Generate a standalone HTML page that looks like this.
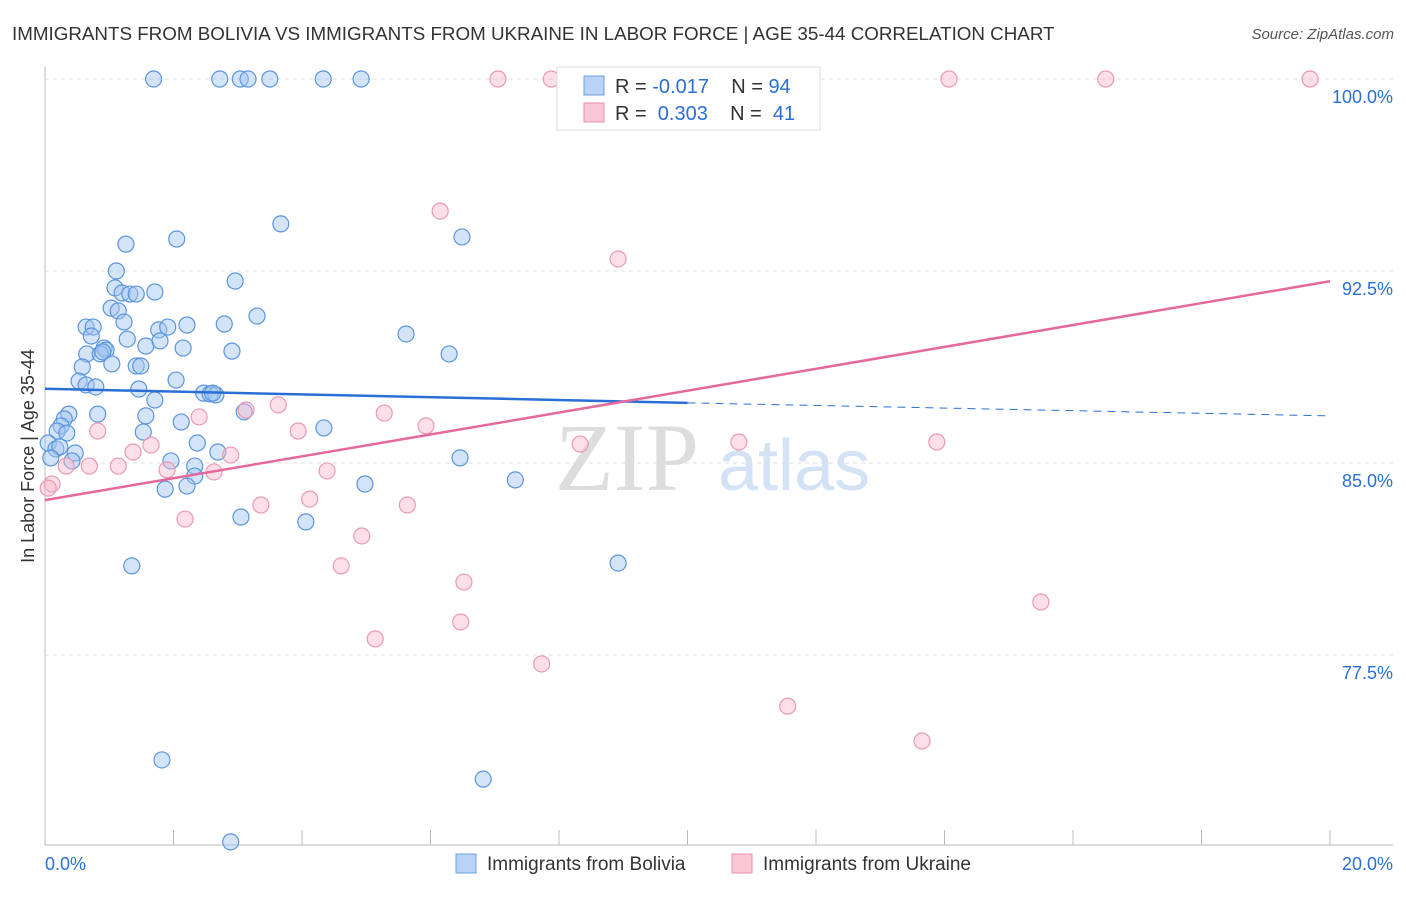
<!DOCTYPE html>
<html><head><meta charset="utf-8"><style>
body{margin:0;background:#fff;font-family:"Liberation Sans",sans-serif}
</style></head><body>
<svg id="c" width="1406" height="892" xmlns="http://www.w3.org/2000/svg" font-family="Liberation Sans, sans-serif">
<text x="12" y="40" font-size="18.8" fill="#333">IMMIGRANTS FROM BOLIVIA VS IMMIGRANTS FROM UKRAINE IN LABOR FORCE | AGE 35-44 CORRELATION CHART</text>
<text x="1394" y="39" font-size="15" fill="#555" font-style="italic" text-anchor="end">Source: ZipAtlas.com</text>
<text x="0" y="0" transform="translate(34,456) rotate(-90)" font-size="18" fill="#333" text-anchor="middle">In Labor Force | Age 35-44</text>
<text x="555" y="490" font-size="96" fill="#ddd" font-family="Liberation Serif, serif">ZIP</text>
<text x="718" y="490" font-size="72" fill="#d4e2f5">atlas</text>
<g id="grid"></g><g id="pts"></g><g id="lines"></g>
<g>
<rect x="557" y="67" width="263" height="63" fill="#fff" stroke="#ddd"/>
<rect x="584" y="76" width="20" height="19" fill="#b8d3f5" stroke="#6a9fe0"/>
<rect x="584" y="103" width="20" height="19" fill="#f9c6d5" stroke="#ec8fab"/>
<text x="615" y="93" font-size="20" fill="#333" xml:space="preserve">R = <tspan fill="#2a6fd6">-0.017</tspan>    N = <tspan fill="#2a6fd6">94</tspan></text>
<text x="615" y="120" font-size="20" fill="#333" xml:space="preserve">R =  <tspan fill="#2a6fd6">0.303</tspan>    N =  <tspan fill="#2a6fd6">41</tspan></text>
</g>
<g>
<rect x="456" y="854" width="20" height="19" fill="#b8d3f5" stroke="#6a9fe0"/>
<text x="487" y="870" font-size="19" fill="#333">Immigrants from Bolivia</text>
<rect x="732" y="854" width="20" height="19" fill="#f9c6d5" stroke="#ec8fab"/>
<text x="763" y="870" font-size="19" fill="#333">Immigrants from Ukraine</text>
</g>
</svg>
<script>
const yTicks=[100,92.5,85,77.5];
const yTickLabels=["100.0%","92.5%","85.0%","77.5%"];
const xTicks=[0,2,4,6,8,10,12,14,16,18,20];
const boliviaX=[1.69,2.72,3.04,3.16,3.5,4.33,4.92,1.26,2.05,3.67,6.49,1.11,1.09,1.2,1.32,1.42,1.71,2.96,1.03,1.14,1.23,0.64,0.75,0.72,1.28,1.77,2.21,2.79,3.3,0.92,0.95,1.57,1.79,1.91,2.15,2.91,5.62,6.29,0.65,0.86,0.9,1.04,0.58,1.42,1.49,2.04,0.53,0.64,0.79,1.46,1.71,2.47,2.57,2.66,2.61,0.82,0.37,0.3,1.57,2.12,3.1,4.34,0.25,0.19,0.34,1.53,0.05,0.17,0.23,0.09,0.47,0.42,2.37,2.69,6.46,7.32,1.96,2.33,2.33,1.87,2.21,4.98,3.05,4.06,1.35,8.92,1.82,6.82,2.89];
const boliviaY=[100,100,100,100,100,100,100,93.55,93.75,94.34,93.83,92.5,91.84,91.64,91.6,91.6,91.68,92.11,91.05,90.94,90.51,90.31,90.31,89.96,89.84,90.2,90.39,90.43,90.74,89.49,89.41,89.57,89.77,90.31,89.49,89.37,90.04,89.26,89.26,89.26,89.34,88.87,88.75,88.79,88.79,88.24,88.2,88.05,87.97,87.89,87.46,87.73,87.7,87.66,87.73,86.91,86.91,86.72,86.84,86.6,87.0,86.37,86.45,86.25,86.17,86.21,85.78,85.55,85.63,85.2,85.39,85.08,85.78,85.43,85.2,84.34,85.08,84.88,84.49,83.98,84.1,84.18,82.89,82.7,80.98,81.09,73.4,72.65,70.2];
const ukraineX=[7.05,7.88,14.07,16.51,19.69,6.15,8.92,3.63,5.28,3.13,5.93,3.94,2.4,0.82,1.65,1.37,2.89,10.8,13.88,8.33,0.69,1.14,1.9,2.63,4.39,0.33,0.11,0.05,3.36,4.12,5.64,2.18,4.93,4.61,6.52,6.47,5.14,7.73,15.5,11.56,13.65];
const ukraineY=[100,100,100,100,100,94.84,92.97,87.27,86.95,87.07,86.45,86.25,86.8,86.25,85.7,85.43,85.31,85.82,85.82,85.74,84.88,84.88,84.73,84.65,84.69,84.88,84.18,84.02,83.36,83.59,83.36,82.81,82.15,80.98,80.35,78.79,78.13,77.15,79.57,75.5,74.14];
const blueLine=[[0,87.9],[10,87.35],[20,86.84]];
const pinkLine=[[0,83.55],[20,92.1]];
const NS="http://www.w3.org/2000/svg";
const X=v=>45+v*64.25, Y=v=>79+(100-v)*25.6;
function mk(t,a,p){const e=document.createElementNS(NS,t);for(const k in a)e.setAttribute(k,a[k]);p.appendChild(e);return e;}
const grid=document.getElementById('grid');
yTicks.forEach((t,i)=>{
 const l=mk('line',{x1:45,x2:1393,y1:Y(t),y2:Y(t),stroke:'#ddd','stroke-dasharray':'4,4'},grid);
 
 
 const tx=mk('text',{x:1393,y:Y(t)+24,'font-size':18,fill:'#2a6fd6','text-anchor':'end'},grid);
 tx.textContent=yTickLabels[i];
 
 
});
const ax=mk('line',{x1:45,x2:45,y1:67,y2:845,stroke:'#bbb'},grid);


const bx=mk('line',{x1:45,x2:1393,y1:845,y2:845,stroke:'#bbb'},grid);


xTicks.forEach(t=>{
 const l=mk('line',{x1:X(t),x2:X(t),y1:830,y2:845,stroke:'#bbb'},grid);
 
 
});
[[0,"0.0%","start",45],[20,"20.0%","end",1393]].forEach(d=>{
 const tx=mk('text',{x:d[3],y:870,'font-size':18,fill:'#2a6fd6','text-anchor':d[2]},grid);
 tx.textContent=d[1];
 
 
});
const pts=document.getElementById('pts');
boliviaX.forEach((x,i)=>{
 const c=mk('circle',{cx:X(x),cy:Y(boliviaY[i]),r:8,fill:'rgba(160,196,240,0.45)',stroke:'#5b95de','stroke-width':1.2},pts);
 
 
});
ukraineX.forEach((x,i)=>{
 const c=mk('circle',{cx:X(x),cy:Y(ukraineY[i]),r:8,fill:'rgba(248,185,205,0.45)',stroke:'#ea9ab3','stroke-width':1.2},pts);
 
 
});
const lines=document.getElementById('lines');
const b1=mk('line',{x1:X(blueLine[0][0]),y1:Y(blueLine[0][1]),x2:X(blueLine[1][0]),y2:Y(blueLine[1][1]),stroke:'#2a6fd6','stroke-width':2.5},lines);


const b2=mk('line',{x1:X(blueLine[1][0]),y1:Y(blueLine[1][1]),x2:X(blueLine[2][0]),y2:Y(blueLine[2][1]),stroke:'#2a6fd6','stroke-width':1,'stroke-dasharray':'8,6'},lines);


const p1=mk('line',{x1:X(pinkLine[0][0]),y1:Y(pinkLine[0][1]),x2:X(pinkLine[1][0]),y2:Y(pinkLine[1][1]),stroke:'#e4689a','stroke-width':2.5},lines);


</script>
</body></html>
